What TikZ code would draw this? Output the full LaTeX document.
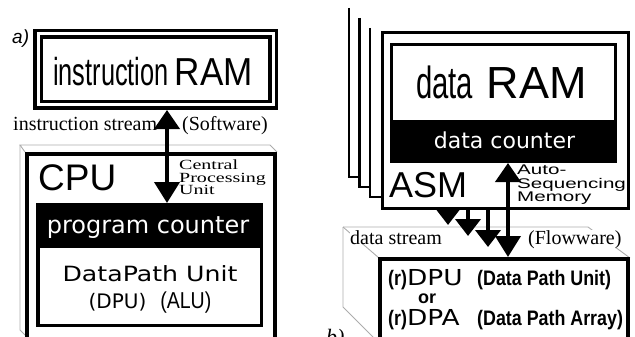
\documentclass[tikz,border=0pt]{standalone}
\usepackage{fontspec}
\setmainfont{Liberation Serif}
\setsansfont{Liberation Sans}
\newfontfamily\condsans[FakeStretch=0.65]{Liberation Sans}
\newfontfamily\midsans[FakeStretch=0.9]{Liberation Sans}
\newfontfamily\narrowsans[FakeStretch=0.85]{Liberation Sans}
\newfontfamily\dvsans{DejaVu Sans}
\newfontfamily\widesans[FakeStretch=1.2]{DejaVu Sans}
\newfontfamily\wideserif[FakeStretch=1.43]{Liberation Serif}
\newfontfamily\stretchsans[FakeStretch=1.47]{Liberation Sans}
\newcommand\txtsize[1]{\fontsize{#1}{#1}\selectfont}
\usetikzlibrary{arrows.meta}
\tikzset{
  box/.style={draw, line width=3pt, fill=white, inner sep=0pt},
  band/.style={fill=black, inner sep=0pt, outer sep=0pt},
  slab/.style={draw=gray!65, line width=0.9pt},
  page/.style={line width=2.5pt},
  txt/.style={anchor=base, inner sep=0pt},
  flow/.style={line width=4pt, -{Triangle[length=17pt 0 1,width=25pt 0 1]}},
  biflow/.style={line width=4pt, {Triangle[length=19pt 0 1,width=25pt 0 1]}-{Triangle[length=21pt 0 1,width=25pt 0 1]}}
}
\begin{document}
\begin{tikzpicture}[x=1pt,y=-1pt]
    \path[use as bounding box] (0,0) rectangle (635,337);
    \clip (0,0) rectangle (635,337);
    % a) instruction side
    \draw[slab] (25,152) -- (20,145) -- (270,145) -- (277,152);
    \draw[slab] (20,145) -- (20,330) -- (27,337);
    \node[box, line width=4pt, minimum width=248pt, minimum height=191pt] (cpu) at (151,249.5) {};
    \node[box, line width=3.5pt, minimum width=223.5pt, minimum height=120.5pt] (dpu) at (149.5,265) {};
    \node[band, minimum width=227pt, minimum height=45pt] (pc) at (149.5,225.5) {};
    \node[box, double, double distance=3pt, line width=3.5pt, minimum width=235pt, minimum height=71pt, outer sep=5pt] (iram) at (155.5,69.5) {};
    \node[txt] (iramlabel) at (153,86) {\condsans\txtsize{39}instruction\hspace{6pt}{\midsans RAM}};
    \node[txt, anchor=base west] (cpulabel) at (38,190) {\sffamily\txtsize{37}CPU};
    \node[txt, anchor=north west, align=left, font={\wideserif\fontsize{14}{12.5}\selectfont}] (cpuname) at (179,160) {Central\\Processing\\Unit};
    \node[txt, text=white] (pclabel) at (148,233) {\dvsans\txtsize{24}program counter};
    \node[txt] (dpulabel) at (150,281) {\widesans\txtsize{21}DataPath Unit};
    \node[txt] (dputype) at (150,308) {\dvsans\txtsize{20}(DPU)\hspace{14pt}{\narrowsans\txtsize{23}(ALU)}};
    \node[txt, anchor=base west] (istream) at (13,130) {\txtsize{20}instruction stream};
    \node[txt, anchor=base west] (software) at (182,130) {\txtsize{20}(Software)};
    \node[txt, anchor=base west] (alabel) at (12,44) {\sffamily\itshape\txtsize{19}a)};
    \draw[biflow] (iram.south -| 167,0) -- (pc.north -| 167,0);
    % b) data side
    \draw[page] (349,8) |- (359,177);
    \draw[page] (359.5,18) |- (370,187);
    \draw[page] (370,28) |- (381,197);
    \draw[slab] (343,227) -- (588,227) -- (630,258);
    \draw[slab] (343,227) -- (379,258);
    \draw[slab] (343,227) -- (343,307) -- (373,337);
    \node[box, minimum width=246pt, minimum height=176pt] (asm) at (505.5,120.5) {};
    \node[box, minimum width=224pt, minimum height=117pt] (dram) at (503.5,103) {};
    \node[band, minimum width=227pt, minimum height=43pt] (dcnt) at (503.5,141.5) {};
    \node[box, line width=4pt, minimum width=248pt, minimum height=91pt] (dpubox) at (504,304.5) {};
    \node[txt] (dramlabel) at (501.5,99) {\condsans\txtsize{45}data\hspace{14pt}{\sffamily RAM}};
    \node[txt, text=white] (dcntlabel) at (504.5,148) {\dvsans\txtsize{22}data counter};
    \node[txt, anchor=base west] (asmlabel) at (389,197) {\sffamily\txtsize{36}ASM};
    \node[txt, anchor=north west, align=left, font={\stretchsans\fontsize{14}{13.5}\selectfont}] (asmname) at (517,165) {Auto-\\Sequencing\\Memory};
    \node[txt, anchor=base west, fill=white] (dstream) at (350,244) {\txtsize{20}data stream};
    \node[txt, anchor=base west, fill=white] (flowware) at (528,244) {\txtsize{20}(Flowware)};
    \node[txt, anchor=base west] (rdpu) at (388,285) {{\narrowsans\bfseries\txtsize{21}(r)}{\widesans\txtsize{22}DPU}};
    \node[txt, anchor=base west] (dpuname) at (477,285) {\narrowsans\bfseries\txtsize{21}(Data Path Unit)};
    \node[txt, anchor=base west] (orlabel) at (418,303) {\sffamily\bfseries\txtsize{18}or};
    \node[txt, anchor=base west] (rdpa) at (388,325) {{\narrowsans\bfseries\txtsize{21}(r)}{\widesans\txtsize{22}DPA}};
    \node[txt, anchor=base west] (dpaname) at (477,325) {\narrowsans\bfseries\txtsize{21}(Data Path Array)};
    \node[txt, anchor=base west] (blabel) at (326,344) {\itshape\txtsize{22}b)};
    \coordinate (tip1) at (448,225);
    \coordinate (tip2) at (468,236);
    \coordinate (tip3) at (488,247);
    \draw[flow] (asm.south -| tip1) -- (tip1);
    \draw[flow] (asm.south -| tip2) -- (tip2);
    \draw[flow] (asm.south -| tip3) -- (tip3);
    \draw[biflow] (dcnt.south -| 508,0) -- (dpubox.north -| 508,0);
\end{tikzpicture}
\end{document}
